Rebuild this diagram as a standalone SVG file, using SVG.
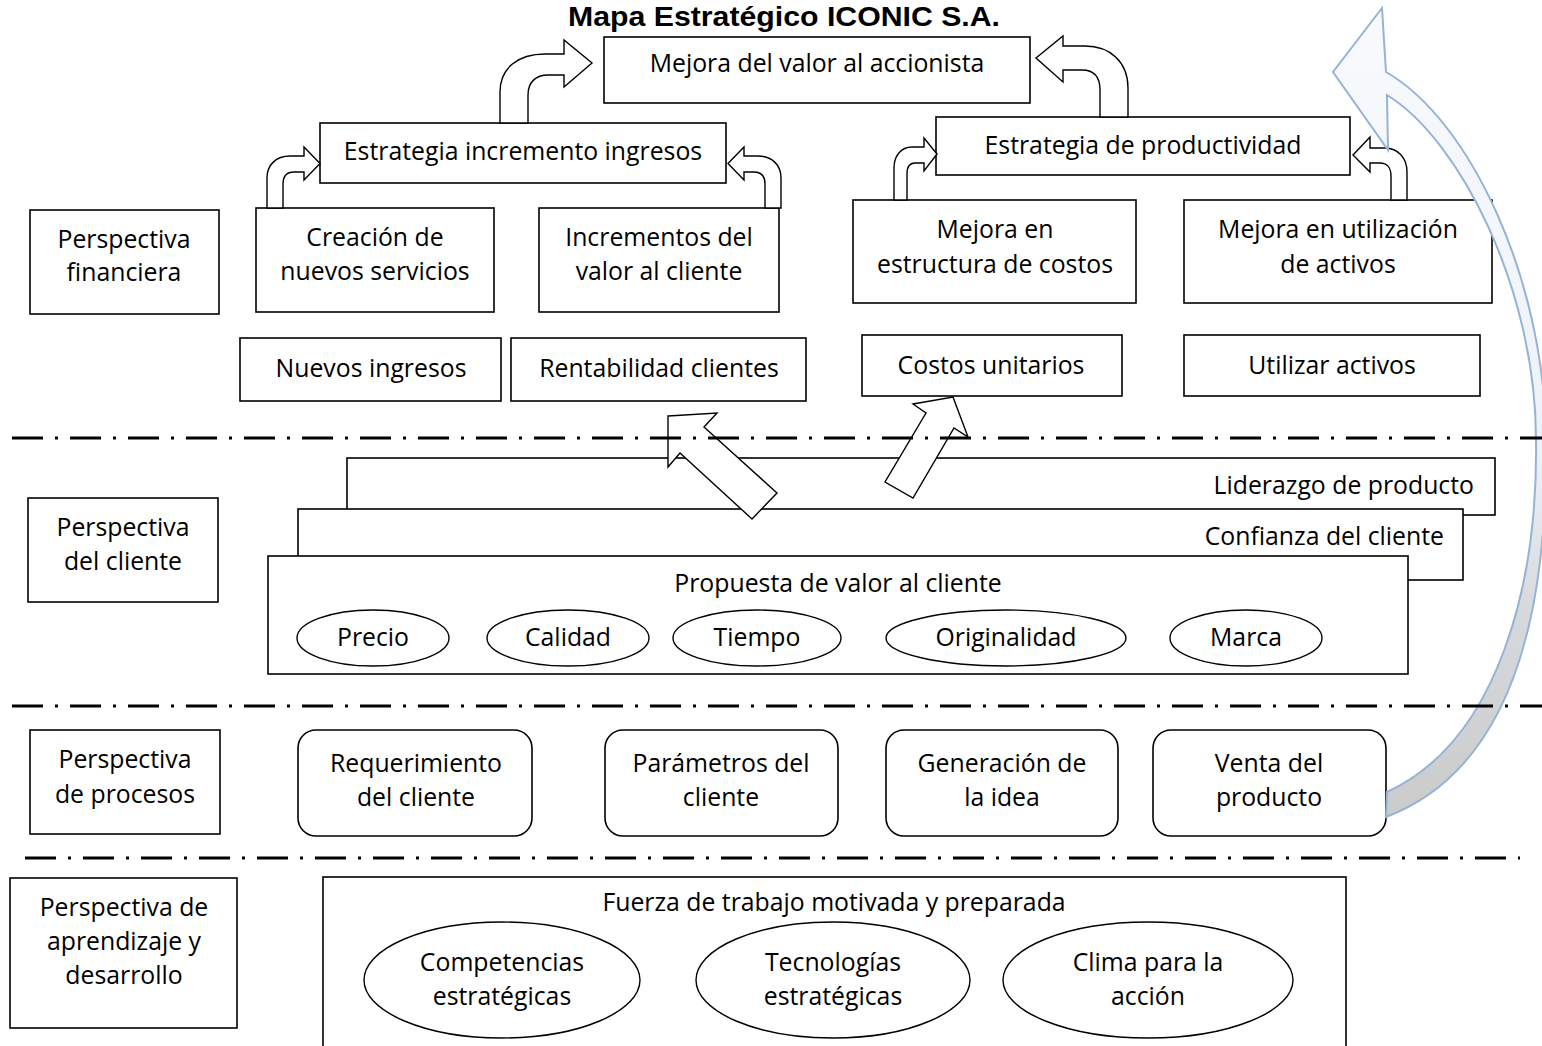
<svg xmlns="http://www.w3.org/2000/svg" width="1542" height="1046" viewBox="0 0 1542 1046">
<defs>
<linearGradient id="blueGrad" gradientUnits="userSpaceOnUse" x1="0" y1="0" x2="0" y2="820">
<stop offset="0" stop-color="#f8fafd"/>
<stop offset="0.55" stop-color="#eef2f7"/>
<stop offset="0.75" stop-color="#d6d8dc"/>
<stop offset="1" stop-color="#cbcbcb"/>
</linearGradient>
</defs>
<style>
.box{fill:#fff;stroke:#000;stroke-width:1.6}
.ell{fill:#fff;stroke:#000;stroke-width:1.4}
.bent{fill:#fff;stroke:#000;stroke-width:1.4;stroke-linejoin:miter}
.t{font-family:"Open Sans","Noto Sans","Liberation Sans",sans-serif;font-size:24.8px;fill:#000;text-anchor:middle}
.r{text-anchor:end}
.dash{stroke:#000;stroke-width:3;stroke-dasharray:31 12 3 12;fill:none}
.title{font-family:"Liberation Sans",Arial,sans-serif;font-weight:bold;font-size:27px;fill:#000}
</style>
<rect width="1542" height="1046" fill="#fff"/>

<text class="title" x="568" y="26" textLength="432" lengthAdjust="spacingAndGlyphs">Mapa Estratégico ICONIC S.A.</text>

<!-- Financial perspective -->
<g id="mejora-valor"><rect class="box" x="604" y="37" width="426" height="66"/><text class="t" x="817" y="72">Mejora del valor al accionista</text></g>
<g id="estrategia-ingresos"><rect class="box" x="320" y="123" width="406" height="60"/><text class="t" x="523" y="160">Estrategia incremento ingresos</text></g>
<g id="estrategia-productividad"><rect class="box" x="936" y="117" width="414" height="58"/><text class="t" x="1143" y="154">Estrategia de productividad</text></g>
<g id="persp-financiera"><rect class="box" x="30" y="210" width="189" height="104"/><text class="t" x="124" y="248">Perspectiva</text><text class="t" x="124" y="281">financiera</text></g>
<g id="creacion"><rect class="box" x="256" y="208" width="238" height="104"/><text class="t" x="375" y="246">Creación de</text><text class="t" x="375" y="280">nuevos servicios</text></g>
<g id="incrementos"><rect class="box" x="539" y="208" width="240" height="104"/><text class="t" x="659" y="246">Incrementos del</text><text class="t" x="659" y="280">valor al cliente</text></g>
<g id="mejora-costos"><rect class="box" x="853" y="200" width="283" height="103"/><text class="t" x="995" y="238">Mejora en</text><text class="t" x="995" y="273">estructura de costos</text></g>
<g id="mejora-activos"><rect class="box" x="1184" y="200" width="308" height="103"/><text class="t" x="1338" y="238">Mejora en utilización</text><text class="t" x="1338" y="273">de activos</text></g>
<g id="nuevos-ingresos"><rect class="box" x="240" y="338" width="261" height="63"/><text class="t" x="371" y="377">Nuevos ingresos</text></g>
<g id="rentabilidad"><rect class="box" x="511" y="338" width="295" height="63"/><text class="t" x="659" y="377">Rentabilidad clientes</text></g>
<g id="costos-unitarios"><rect class="box" x="862" y="335" width="260" height="61"/><text class="t" x="991" y="374">Costos unitarios</text></g>
<g id="utilizar-activos"><rect class="box" x="1184" y="335" width="296" height="61"/><text class="t" x="1332" y="374">Utilizar activos</text></g>

<!-- Customer perspective -->
<g id="persp-cliente"><rect class="box" x="28" y="498" width="190" height="104"/><text class="t" x="123" y="536">Perspectiva</text><text class="t" x="123" y="570">del cliente</text></g>
<g id="liderazgo"><rect class="box" x="347" y="458" width="1148" height="57"/><text class="t r" x="1474" y="494">Liderazgo de producto</text></g>
<g id="confianza"><rect class="box" x="298" y="509" width="1165" height="71"/><text class="t r" x="1444" y="545">Confianza del cliente</text></g>
<g id="propuesta"><rect class="box" x="268" y="556" width="1140" height="118"/><text class="t" x="838" y="592">Propuesta de valor al cliente</text>
<ellipse class="ell" cx="373" cy="638" rx="76" ry="28"/><text class="t" x="373" y="646">Precio</text>
<ellipse class="ell" cx="568" cy="638" rx="81" ry="28"/><text class="t" x="568" y="646">Calidad</text>
<ellipse class="ell" cx="757" cy="638" rx="84" ry="28"/><text class="t" x="757" y="646">Tiempo</text>
<ellipse class="ell" cx="1006" cy="638" rx="120" ry="28"/><text class="t" x="1006" y="646">Originalidad</text>
<ellipse class="ell" cx="1246" cy="638" rx="76" ry="28"/><text class="t" x="1246" y="646">Marca</text>
</g>

<!-- Process perspective -->
<g id="persp-procesos"><rect class="box" x="30" y="730" width="190" height="104"/><text class="t" x="125" y="768">Perspectiva</text><text class="t" x="125" y="803">de procesos</text></g>
<g id="requerimiento"><rect class="box" x="298" y="730" width="234" height="106" rx="18"/><text class="t" x="416" y="772">Requerimiento</text><text class="t" x="416" y="806">del cliente</text></g>
<g id="parametros"><rect class="box" x="605" y="730" width="233" height="106" rx="18"/><text class="t" x="721" y="772">Parámetros del</text><text class="t" x="721" y="806">cliente</text></g>
<g id="generacion"><rect class="box" x="886" y="730" width="232" height="106" rx="18"/><text class="t" x="1002" y="772">Generación de</text><text class="t" x="1002" y="806">la idea</text></g>
<g id="venta"><rect class="box" x="1153" y="730" width="233" height="106" rx="18"/><text class="t" x="1269" y="772">Venta del</text><text class="t" x="1269" y="806">producto</text></g>

<!-- Learning perspective -->
<g id="persp-aprendizaje"><rect class="box" x="10" y="878" width="227" height="150"/><text class="t" x="124" y="916">Perspectiva de</text><text class="t" x="124" y="950">aprendizaje y</text><text class="t" x="124" y="984">desarrollo</text></g>
<g id="fuerza"><rect class="box" x="323" y="877" width="1023" height="180"/><text class="t" x="834" y="911">Fuerza de trabajo motivada y preparada</text>
<ellipse class="ell" cx="502" cy="980" rx="138" ry="58"/><text class="t" x="502" y="971">Competencias</text><text class="t" x="502" y="1005">estratégicas</text>
<ellipse class="ell" cx="833" cy="980" rx="137" ry="58"/><text class="t" x="833" y="971">Tecnologías</text><text class="t" x="833" y="1005">estratégicas</text>
<ellipse class="ell" cx="1148" cy="980" rx="145" ry="58"/><text class="t" x="1148" y="971">Clima para la</text><text class="t" x="1148" y="1005">acción</text>
</g>

<!-- Connectors -->
<g id="connectors">
<path class="bent" d="M500,123 L500,92 C500,68 518,54 545,54 L564,54 L564,40 L592,63 L564,87 L564,75 L548,75 C536,75 528,82 528,95 L528,123 Z"/>
<path class="bent" d="M1128,117 L1128,88 C1128,62 1110,46 1085,46 L1063,46 L1063,36 L1036,58 L1063,82 L1063,70 L1082,70 C1094,70 1100,77 1100,90 L1100,117 Z"/>
<path class="bent" d="M267,208 L267,178 C267,165 276,156 290,156 L304,156 L304,147 L320,163.5 L304,180 L304,172 L294,172 C287,172 283,176 283,184 L283,208 Z"/>
<path class="bent" d="M781,208 L781,178 C781,165 772,156 758,156 L744,156 L744,147 L728,163.5 L744,180 L744,172 L754,172 C761,172 765,176 765,184 L765,208 Z"/>
<path class="bent" d="M894,200 L894,168 C894,156 901,147 912,147 L924,147 L924,138 L937,154 L924,171 L924,163 L915,163 C910,163 907,167 907,174 L907,200 Z"/>
<path class="bent" d="M1407,200 L1407,172 C1407,158 1398,148 1385,148 L1370,148 L1370,137 L1353,155 L1370,172 L1370,163 L1380,163 C1387,163 1391,168 1391,176 L1391,200 Z"/>
<polygon class="bent" points="668,416 717,413 704,427 777,493 752,519 680,453 668,467"/>
<polygon class="bent" points="953,397 968,437 954,428 913,498 885,482 926,413 913,404"/>
<path d="M1382,8 L1333,72 L1388,150 L1387,95 C1460,140 1536,290 1536,440 C1538,580 1500,740 1387,792 L1386,817 C1510,770 1548,620 1546,440 C1545,280 1470,120 1386,72 Z" fill="url(#blueGrad)" stroke="#95b3d7" stroke-width="2" stroke-linejoin="miter"/>
</g>

<!-- Separators -->
<line class="dash" x1="12" y1="438" x2="1542" y2="438"/>
<line class="dash" x1="12" y1="706" x2="1542" y2="706"/>
<line class="dash" x1="25" y1="858" x2="1520" y2="858"/>
</svg>
